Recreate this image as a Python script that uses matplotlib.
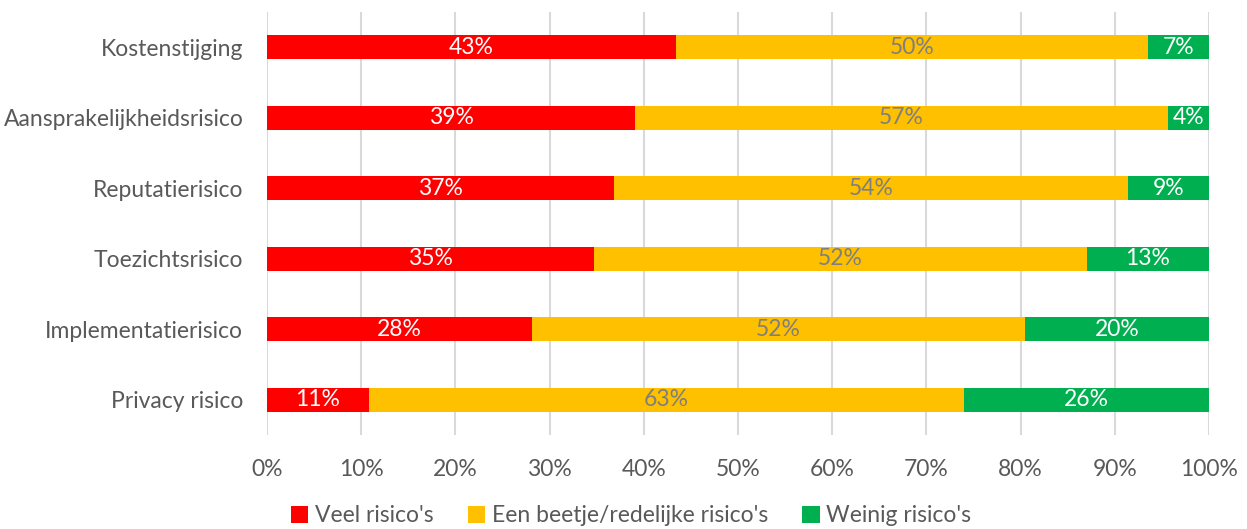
import numpy as np
import matplotlib.pyplot as plt
from matplotlib.patches import Patch

# 類別（由上到下）
categories = ["Kostenstijging", "Aansprakelijkheidsrisico", "Reputatierisico",
              "Toezichtsrisico", "Implementatierisico", "Privacy risico"]

# 各系列百分比
veel = [43.4, 39.1, 36.8, 34.7, 28.1, 10.8]
beetje = [50.1, 56.5, 54.6, 52.3, 52.4, 63.2]
weinig = [6.5, 4.4, 8.6, 13.0, 19.5, 26.0]

veel_labels = ["43%", "39%", "37%", "35%", "28%", "11%"]
beetje_labels = ["50%", "57%", "54%", "52%", "52%", "63%"]
weinig_labels = ["7%", "4%", "9%", "13%", "20%", "26%"]

series_names = ["Veel risico's", "Een beetje/redelijke risico's", "Weinig risico's"]
colors = ["#ff0000", "#ffc000", "#00b050"]
label_colors = ["white", "#7f7f7f", "white"]
text_color = "#595959"
fs = 16.5

plt.rcParams['font.family'] = ['Lato', 'DejaVu Sans']

fig = plt.figure(figsize=(12.47, 5.29), dpi=100)
ax = fig.add_axes([0.2141, 0.1777, 0.7554, 0.7996])

y = np.arange(len(categories))[::-1]
left = np.zeros(len(categories))
for vals, labs, c, lc in zip([veel, beetje, weinig],
                             [veel_labels, beetje_labels, weinig_labels],
                             colors, label_colors):
    vals = np.array(vals)
    bars = ax.barh(y, vals, left=left, height=0.34, color=c, zorder=3)
    ax.bar_label(bars, labels=labs, label_type='center', color=lc, fontsize=fs)
    left = left + vals

ax.set_xlim(0, 100)
ax.set_ylim(-0.5, len(categories) - 0.5)
ax.set_xticks(np.arange(0, 101, 10))
ax.set_xticklabels([f"{v}%" for v in range(0, 101, 10)])
ax.set_yticks(y)
ax.set_yticklabels(categories)
ax.tick_params(axis='both', length=0, labelsize=fs, labelcolor=text_color)
ax.tick_params(axis='x', pad=17)
ax.tick_params(axis='y', pad=17)
ax.grid(axis='x', color='#d9d9d9', linewidth=1.5, zorder=0)
for s in ax.spines.values():
    s.set_visible(False)

handles = [Patch(facecolor=c, edgecolor='none') for c in colors]
leg = fig.legend(handles, series_names, loc='center', ncol=3,
                 bbox_to_anchor=(0.506, 1 - 516 / 529), frameon=False,
                 fontsize=fs, handlelength=0.75, handleheight=0.75,
                 handletextpad=0.3, columnspacing=1.5)
for t in leg.get_texts():
    t.set_color(text_color)

fig.savefig("out.png", dpi=100)
